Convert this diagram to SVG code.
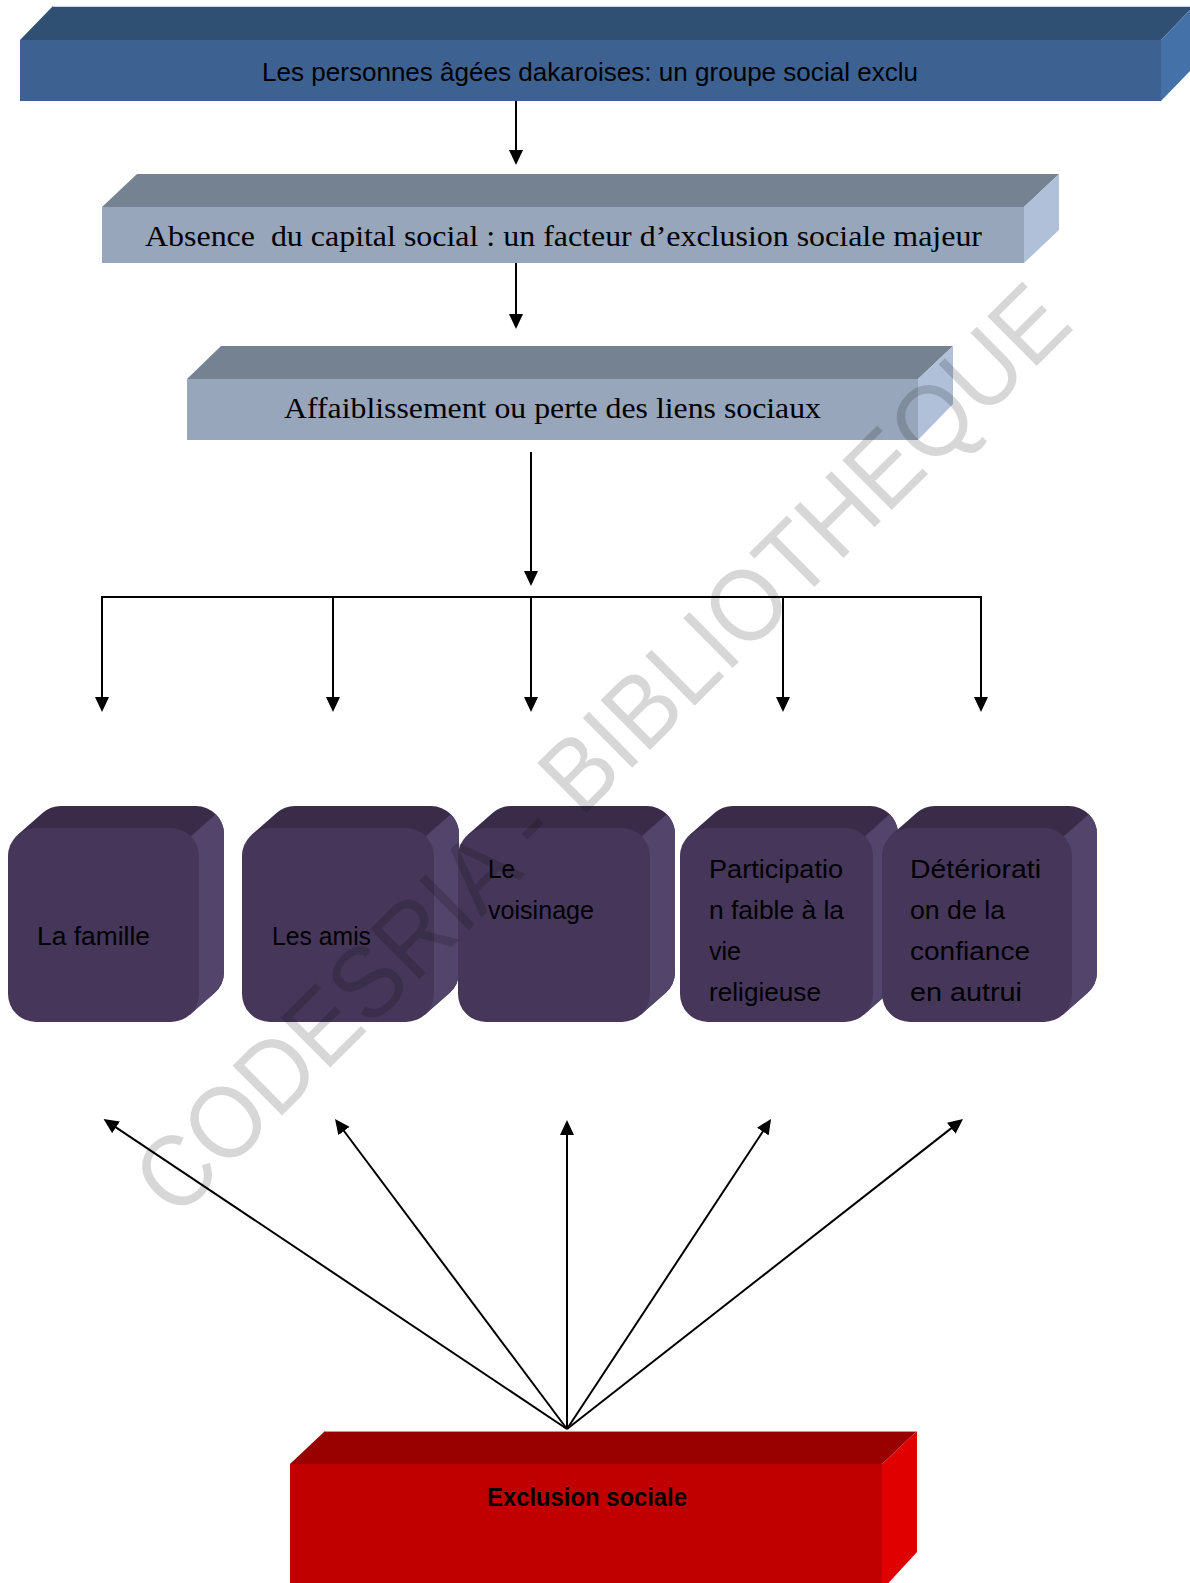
<svg xmlns="http://www.w3.org/2000/svg" width="1190" height="1583" viewBox="0 0 1190 1583">
<style>
.sans{font-family:"Liberation Sans",Arial,sans-serif;font-size:26px;fill:#000}
.serif{font-family:"Liberation Serif","Times New Roman",serif;font-size:29px;fill:#000}
.conn{stroke:#000;stroke-width:2;fill:none}
.ptop{fill:#3A2C49}
.pright{fill:#53446B}
.pfront{fill:#46375A}
</style>
<defs>
<marker id="ah" markerUnits="userSpaceOnUse" markerWidth="15" markerHeight="14" refX="10" refY="7" orient="auto">
<path d="M0,0 L15,7 L0,14 Z" fill="#000"/>
</marker>
</defs>
<rect width="1190" height="1583" fill="#fff"/>

<g id="n-top">
<polygon points="20,40 53,6 1194,6 1161,40" fill="#2F4F73"/>
<polygon points="1161,40 1194,6 1194,67 1161,101" fill="#4471A8"/>
<rect x="20" y="40" width="1141" height="61" fill="#3D6291"/>
<line x1="53" y1="6.5" x2="1190" y2="6.5" stroke="#c9d2de" stroke-width="1"/>
<text class="sans" x="262" y="80.5" textLength="656" lengthAdjust="spacingAndGlyphs">Les personnes âgées dakaroises: un groupe social exclu</text>
</g>

<g id="n-capital">
<polygon points="102,207 137,174 1059,174 1024,207" fill="#758291"/>
<polygon points="1024,207 1059,174 1059,230 1024,263" fill="#AFC0D8"/>
<rect x="102" y="207" width="922" height="56" fill="#97A6BA"/>
<text class="serif" x="145" y="246" textLength="837" lengthAdjust="spacingAndGlyphs" xml:space="preserve">Absence  du capital social : un facteur d’exclusion sociale majeur</text>
</g>

<g id="n-liens">
<polygon points="187,379 221,346 953,346 918,379" fill="#758291"/>
<polygon points="918,379 953,346 953,404 918,440" fill="#AFC0D8"/>
<rect x="187" y="379" width="731" height="61" fill="#97A6BA"/>
<text class="serif" x="284" y="418" textLength="537" lengthAdjust="spacingAndGlyphs">Affaiblissement ou perte des liens sociaux</text>
</g>

<g id="n-famille" transform="translate(8,828)">
<path class="ptop" d="M9.5,7 L34.5,-15 A28 28 0 0 1 53,-22 L188,-22 A28 28 0 0 1 216,6 L216,144 A28 28 0 0 1 206.5,165 L181.5,187 Z"/>
<path class="pright" d="M182.8,8.2 L207.8,-13.8 A28 28 0 0 1 216,6 L216,144 A28 28 0 0 1 206.5,165 L181.5,187 L171,97 Z"/>
<rect class="pfront" x="0" y="0" width="191" height="194" rx="28"/>
<text class="sans" x="29" y="117" textLength="113" lengthAdjust="spacingAndGlyphs">La famille</text>
</g>

<g id="n-amis" transform="translate(242,828)">
<path class="ptop" d="M9.5,7 L34.5,-15 A28 28 0 0 1 53,-22 L189,-22 A28 28 0 0 1 217,6 L217,144 A28 28 0 0 1 207.5,165 L182.5,187 Z"/>
<path class="pright" d="M183.8,8.2 L208.8,-13.8 A28 28 0 0 1 217,6 L217,144 A28 28 0 0 1 207.5,165 L182.5,187 L172,97 Z"/>
<rect class="pfront" x="0" y="0" width="192" height="194" rx="28"/>
<text class="sans" x="30" y="117" textLength="99" lengthAdjust="spacingAndGlyphs">Les amis</text>
</g>

<g id="n-voisinage" transform="translate(458,828)">
<path class="ptop" d="M9.5,7 L34.5,-15 A28 28 0 0 1 53,-22 L189,-22 A28 28 0 0 1 217,6 L217,144 A28 28 0 0 1 207.5,165 L182.5,187 Z"/>
<path class="pright" d="M183.8,8.2 L208.8,-13.8 A28 28 0 0 1 217,6 L217,144 A28 28 0 0 1 207.5,165 L182.5,187 L172,97 Z"/>
<rect class="pfront" x="0" y="0" width="192" height="194" rx="28"/>
<text class="sans" x="30" y="50" textLength="27" lengthAdjust="spacingAndGlyphs">Le</text>
<text class="sans" x="30" y="91" textLength="106" lengthAdjust="spacingAndGlyphs">voisinage</text>
</g>

<g id="n-religieuse" transform="translate(680,828)">
<path class="ptop" d="M9.5,7 L34.5,-15 A28 28 0 0 1 53,-22 L190,-22 A28 28 0 0 1 218,6 L218,144 A28 28 0 0 1 208.5,165 L183.5,187 Z"/>
<path class="pright" d="M184.8,8.2 L209.8,-13.8 A28 28 0 0 1 218,6 L218,144 A28 28 0 0 1 208.5,165 L183.5,187 L173,97 Z"/>
<rect class="pfront" x="0" y="0" width="193" height="194" rx="28"/>
<text class="sans" x="29" y="50" textLength="134" lengthAdjust="spacingAndGlyphs">Participatio</text>
<text class="sans" x="29" y="91" textLength="135" lengthAdjust="spacingAndGlyphs">n faible à la</text>
<text class="sans" x="29" y="132" textLength="32" lengthAdjust="spacingAndGlyphs">vie</text>
<text class="sans" x="29" y="173" textLength="112" lengthAdjust="spacingAndGlyphs">religieuse</text>
</g>

<g id="n-confiance" transform="translate(882,828)">
<path class="ptop" d="M9.5,7 L34.5,-15 A28 28 0 0 1 53,-22 L187,-22 A28 28 0 0 1 215,6 L215,144 A28 28 0 0 1 205.5,165 L180.5,187 Z"/>
<path class="pright" d="M181.8,8.2 L206.8,-13.8 A28 28 0 0 1 215,6 L215,144 A28 28 0 0 1 205.5,165 L180.5,187 L170,97 Z"/>
<rect class="pfront" x="0" y="0" width="190" height="194" rx="28"/>
<text class="sans" x="28" y="50" textLength="131" lengthAdjust="spacingAndGlyphs">Détériorati</text>
<text class="sans" x="28" y="91" textLength="95" lengthAdjust="spacingAndGlyphs">on de la</text>
<text class="sans" x="28" y="132" textLength="120" lengthAdjust="spacingAndGlyphs">confiance</text>
<text class="sans" x="28" y="173" textLength="112" lengthAdjust="spacingAndGlyphs">en autrui</text>
</g>

<g id="n-exclusion">
<polygon points="290,1464 325,1431 917,1431 882,1464" fill="#990000"/>
<polygon points="882,1464 917,1431 917,1552 882,1590" fill="#E00000"/>
<rect x="290" y="1464" width="592" height="126" fill="#C00000"/>
<line x1="325" y1="1431.5" x2="917" y2="1431.5" stroke="#d98c8c" stroke-width="1"/>
<text class="sans" x="487" y="1506" font-weight="bold" textLength="200" lengthAdjust="spacingAndGlyphs">Exclusion sociale</text>
</g>

<g id="connectors">
<line class="conn" x1="516" y1="101" x2="516" y2="160" marker-end="url(#ah)"/>
<line class="conn" x1="516" y1="263" x2="516" y2="324" marker-end="url(#ah)"/>
<line class="conn" x1="531" y1="452" x2="531" y2="581" marker-end="url(#ah)"/>
<line class="conn" x1="101" y1="597" x2="982" y2="597"/>
<line class="conn" x1="102" y1="597" x2="102" y2="707" marker-end="url(#ah)"/>
<line class="conn" x1="333" y1="597" x2="333" y2="707" marker-end="url(#ah)"/>
<line class="conn" x1="531" y1="597" x2="531" y2="707" marker-end="url(#ah)"/>
<line class="conn" x1="783" y1="597" x2="783" y2="707" marker-end="url(#ah)"/>
<line class="conn" x1="981" y1="597" x2="981" y2="707" marker-end="url(#ah)"/>
<line class="conn" x1="567" y1="1429" x2="107.7" y2="1121.8" marker-end="url(#ah)"/>
<line class="conn" x1="567" y1="1429" x2="338" y2="1123" marker-end="url(#ah)"/>
<line class="conn" x1="567" y1="1429" x2="567" y2="1125" marker-end="url(#ah)"/>
<line class="conn" x1="567" y1="1429" x2="768.3" y2="1123.2" marker-end="url(#ah)"/>
<line class="conn" x1="567" y1="1429" x2="959.1" y2="1122.1" marker-end="url(#ah)"/>
</g>

<text x="626" y="774" transform="rotate(-44.8 626 774)" text-anchor="middle" font-family="Liberation Sans, Arial, sans-serif" font-size="102" textLength="1268" lengthAdjust="spacingAndGlyphs" fill="#000" fill-opacity="0.155">CODESRIA - BIBLIOTHEQUE</text>
</svg>
